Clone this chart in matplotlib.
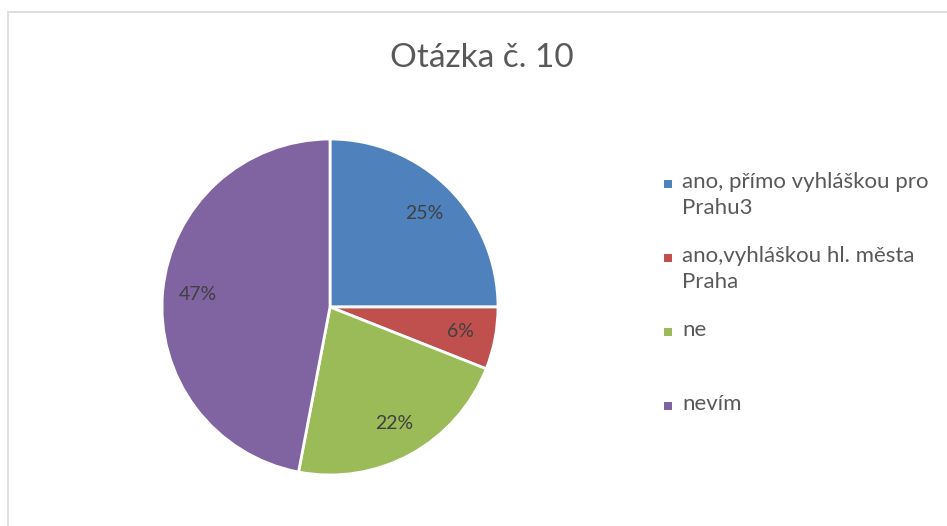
import matplotlib.pyplot as plt
from matplotlib.patches import Rectangle

labels = ["ano, přímo vyhláškou pro\nPrahu3", "ano,vyhláškou hl. města\nPraha", "ne", "nevím"]
values = [25, 6, 22, 47]
colors = ["#4F81BD", "#C0504D", "#9BBB59", "#8064A2"]
title = "Otázka č. 10"

W, H = 947, 526
plt.rcParams["font.family"] = ["Lato", "DejaVu Sans"]

fig = plt.figure(figsize=(W / 100, H / 100), dpi=100)

# chart frame (cropped at right/bottom, like the original)
fig.add_artist(Rectangle((8 / W, -0.2), 1.5, 1.2 - 12 / H, transform=fig.transFigure,
                         facecolor="none", edgecolor="#d9d9d9", lw=1.2))

cx, cy, r = 330, 307, 168
ax = fig.add_axes([(cx - r) / W, (H - cy - r) / H, 2 * r / W, 2 * r / H])
ax.pie(values, colors=colors, startangle=90, counterclock=False, radius=1,
       autopct="%d%%", pctdistance=0.79,
       wedgeprops=dict(edgecolor="white", linewidth=2),
       textprops=dict(color="#404040", fontsize=14))
ax.set_xlim(-1.0, 1.0)
ax.set_ylim(-1.0, 1.0)
ax.axis("off")

fig.text(482 / W, 1 - 58 / H, title, ha="center", va="center", fontsize=24, color="#595959")

# legend, entries spaced evenly
for i, (lab, col) in enumerate(zip(labels, colors)):
    ymid = 184 + i * 74
    fig.add_artist(Rectangle((664 / W, 1 - (ymid + 4) / H), 8 / W, 8 / H,
                             transform=fig.transFigure, facecolor=col, edgecolor="none"))
    fig.text(682 / W, 1 - (ymid - 12) / H, lab, ha="left", va="top", fontsize=16,
             color="#595959", linespacing=1.38)

fig.savefig("out.png", dpi=100)
